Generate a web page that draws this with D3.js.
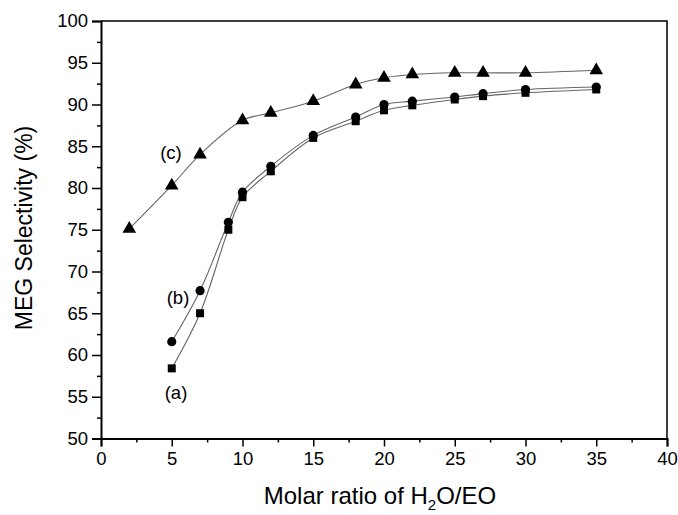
<!DOCTYPE html>
<html>
<head>
<meta charset="utf-8">
<script src="https://cdn.jsdelivr.net/npm/d3@7"></script>
<style>
  html, body { margin: 0; padding: 0; background: #fff; }
  svg { display: block; }
  text { font-family: Arial, "Liberation Sans", sans-serif; fill: #000; }
</style>
</head>
<body>
<svg id="chart" width="678" height="515"></svg>
<script>
// ---- data ----
const xC = [2, 5, 7, 10, 12, 15, 18, 20, 22, 25, 27, 30, 35];
const seriesC = [75.1, 80.3, 84.0, 88.1, 89.0, 90.4, 92.4, 93.2, 93.6, 93.8, 93.8, 93.8, 94.1];
const xAB = [5, 7, 9, 10, 12, 15, 18, 20, 22, 25, 27, 30, 35];
const seriesB = [61.6, 67.7, 75.9, 79.5, 82.6, 86.3, 88.5, 90.0, 90.4, 90.9, 91.3, 91.8, 92.1];
const seriesA = [58.4, 65.0, 75.0, 78.9, 82.0, 86.0, 88.0, 89.3, 89.9, 90.6, 91.0, 91.4, 91.8];
const xTicks = [0, 5, 10, 15, 20, 25, 30, 35, 40];
const yTicks = [50, 55, 60, 65, 70, 75, 80, 85, 90, 95, 100];
const seriesLabels = ["(a)", "(b)", "(c)"];

const svg = d3.select("#chart");
const L = 101, R = 667, T = 21, B = 438.5;

const x = d3.scaleLinear().domain([0, 40]).range([L, R]);
const y = d3.scaleLinear().domain([50, 100]).range([B, T]);

// frame (top & right)
svg.append("path")
  .attr("d", `M${L},${T}H${R}V${B}`)
  .attr("fill", "none").attr("stroke", "#000").attr("stroke-width", 1.5);

// minor ticks
const xMinor = d3.range(2.5, 40, 5);
const yMinor = d3.range(52.5, 100, 5);

const xAxis = svg.append("g").attr("transform", `translate(0,${B})`)
  .call(d3.axisBottom(x).tickValues(xTicks).tickFormat(d3.format("d")).tickSize(8).tickPadding(5));
const xAxisMinor = svg.append("g").attr("transform", `translate(0,${B})`)
  .call(d3.axisBottom(x).tickValues(xMinor).tickFormat("").tickSize(4));
const yAxis = svg.append("g").attr("transform", `translate(${L},0)`)
  .call(d3.axisLeft(y).tickValues(yTicks).tickFormat(d3.format("d")).tickSize(9).tickPadding(4));
const yAxisMinor = svg.append("g").attr("transform", `translate(${L},0)`)
  .call(d3.axisLeft(y).tickValues(yMinor).tickFormat("").tickSize(4));

[xAxis, xAxisMinor, yAxis, yAxisMinor].forEach(g => {
  g.select(".domain").attr("stroke", "#000").attr("stroke-width", 2);
  g.selectAll(".tick line").attr("stroke", "#000").attr("stroke-width", 1.5);
  g.selectAll(".tick text").attr("font-size", 18.5).attr("font-family", "Arial, 'Liberation Sans', sans-serif").attr("fill", "#000");
});
xAxisMinor.select(".domain").remove();
yAxisMinor.select(".domain").remove();

// axis titles
svg.append("text")
  .attr("x", 380).attr("y", 504)
  .attr("text-anchor", "middle").attr("font-size", 24)
  .call(t => {
    t.append("tspan").text("Molar ratio of H");
    t.append("tspan").attr("font-size", 15).attr("dy", 6).text("2");
    t.append("tspan").attr("dy", -6).text("O/EO");
  });

svg.append("text")
  .attr("transform", "translate(32,228) rotate(-90)")
  .attr("text-anchor", "middle").attr("font-size", 23)
  .text("MEG Selectivity (%)");

// lines
const line = d3.line().x(d => x(d[0])).y(d => y(d[1])).curve(d3.curveCatmullRom.alpha(0.5));
const dataA = xAB.map((v, i) => [v, seriesA[i]]);
const dataB = xAB.map((v, i) => [v, seriesB[i]]);
const dataC = xC.map((v, i) => [v, seriesC[i]]);

[dataA, dataB, dataC].forEach(d => {
  svg.append("path").datum(d).attr("d", line)
    .attr("fill", "none").attr("stroke", "#666").attr("stroke-width", 1.1);
});

// markers
function markers(data, type, size) {
  svg.append("g").selectAll("path").data(data).join("path")
    .attr("transform", d => `translate(${x(d[0])},${y(d[1])})`)
    .attr("d", d3.symbol().type(type).size(size))
    .attr("fill", "#000");
}
markers(dataA, d3.symbolSquare, 64);
markers(dataB, d3.symbolCircle, 66);
markers(dataC, d3.symbolTriangle, 80);

// series labels
const labelPos = [[176, 399], [178, 304], [171, 159]];
seriesLabels.forEach((s, i) => {
  svg.append("text").attr("x", labelPos[i][0]).attr("y", labelPos[i][1])
    .attr("text-anchor", "middle").attr("font-size", 18.5).text(s);
});
</script>
</body>
</html>
